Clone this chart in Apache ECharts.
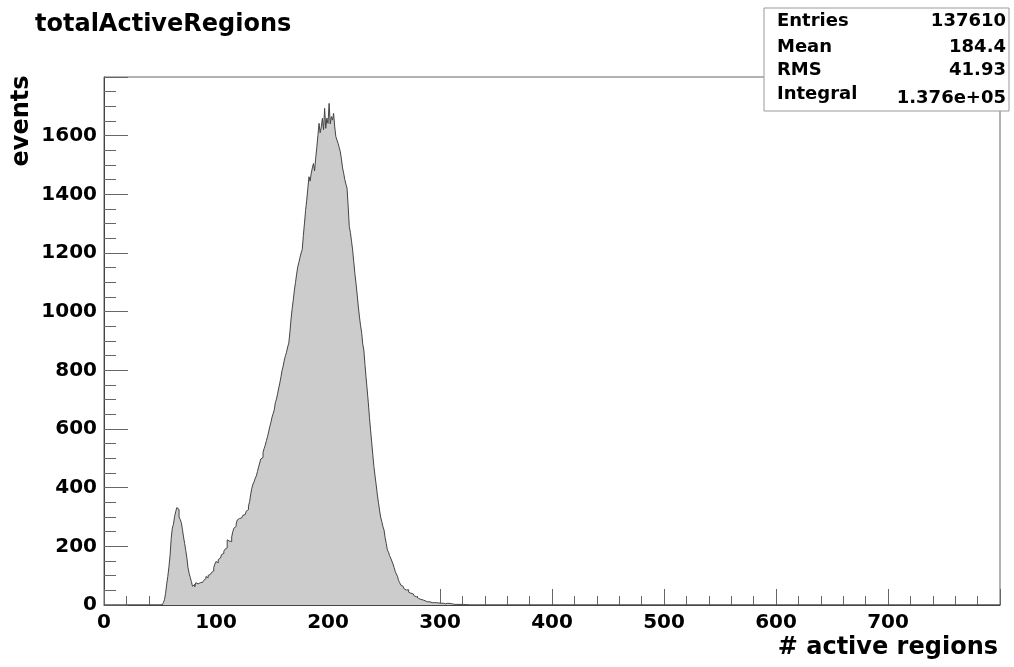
<!DOCTYPE html>
<html>
<head>
<meta charset="utf-8">
<script src="https://cdn.jsdelivr.net/npm/echarts@6/dist/echarts.min.js"></script>
<style>
  html, body { margin: 0; padding: 0; background: #fff; }
  #main { width: 1014px; height: 667px; }
</style>
</head>
<body>
<div id="main"></div>
<script>
// histogram: one bin per unit, first filled bin at 50
const firstBin = 50;
const counts = [
  0, 1, 3, 8, 18, 40, 72, 98, 131, 170,            // 50-59
  226, 262, 275, 301, 318, 332, 326, 300, 292, 281, // 60-69
  258, 232, 210, 186, 160, 127, 108, 94, 80, 64,    // 70-79
  70, 62, 76, 72, 78, 76, 80, 77, 74, 84,           // 80-89
  90, 97, 93, 101, 104, 100, 111, 116, 128, 140,    // 90-99
  148, 144, 155, 160, 163, 172, 176, 183, 190, 195, // 100-109
  222, 218, 212, 216, 232, 250, 262, 268, 276, 290, // 110-119
  295, 292, 297, 302, 306, 308, 314, 320, 325, 338, // 120-129
  352, 378, 398, 412, 420, 432, 440, 455, 470, 484, // 130-139
  498, 503, 520, 534, 545, 560, 574, 590, 608, 622, // 140-149
  640, 652, 665, 690, 702, 720, 740, 757, 778, 800, // 150-159
  815, 835, 850, 862, 880, 893, 930, 975, 1010, 1040,     // 160-169
  1074, 1100, 1128, 1153, 1168, 1185, 1200, 1212, 1260, 1302, // 170-179
  1345, 1380, 1420, 1460, 1445, 1470, 1490, 1505, 1480, 1523, // 180-189
  1560, 1600, 1642, 1610, 1630, 1659, 1620, 1693, 1625, 1660, // 190-199
  1642, 1710, 1640, 1665, 1653, 1676, 1630, 1597, 1585, 1574, // 200-209
  1560, 1545, 1520, 1490, 1472, 1450, 1435, 1421, 1360, 1290, // 210-219
  1270, 1240, 1210, 1170, 1130, 1097, 1060, 1020, 985, 955,   // 220-229
  930, 890, 869, 820, 775, 733, 690, 640, 597, 555, // 230-239
  512, 472, 440, 410, 378, 350, 324, 300, 285, 268, // 240-249
  256, 230, 210, 188, 180, 168, 160, 150, 140, 128, // 250-259
  115, 106, 98, 84, 76, 68, 64, 60, 55, 51,         // 260-269
  48, 52, 44, 40, 45, 38, 34, 31, 28, 26,           // 270-279
  22, 20, 19, 17, 17, 15, 14, 12, 11, 10,           // 280-289
  11, 9, 8, 9, 8, 7, 8, 6, 7, 8,                    // 290-299
  6, 5, 6, 5, 4, 5, 6, 4, 5, 3,                     // 300-309
  4, 3, 2, 3, 2, 3, 2, 1, 2, 1,                     // 310-319
  2, 1, 1, 0, 1, 1, 0, 1, 0, 0                      // 320-329
];
const xMax = 800;
const yMax = 1800;
const statNames = ['Entries', 'Mean', 'RMS', 'Integral'];
const statValues = ['137610', '184.4', '41.93', '1.376e+05'];

const font = 'DejaVu Sans';

// step points from the bins
const points = [[0, 0]];
counts.forEach((c, i) => points.push([firstBin + i, c]));
points.push([firstBin + counts.length, 0]);
points.push([xMax, 0]);

const chart = echarts.init(document.getElementById('main'));

const statRows = [];
const rowY = [21, 47, 70, 94];
statNames.forEach((n, i) => {
  statRows.push({
    type: 'text', x: 777, y: rowY[i], z: 101,
    style: { text: n, font: 'bold 18px ' + font, fill: '#000', verticalAlign: 'middle', align: 'left' }
  });
  statRows.push({
    type: 'text', x: 1006, y: rowY[i] + (i === 3 ? 4 : 0), z: 101,
    style: { text: statValues[i], font: 'bold 18px ' + font, fill: '#000', verticalAlign: 'middle', align: 'right' }
  });
});

const option = {
  animation: false,
  backgroundColor: '#fff',
  grid: {
    left: 104, right: 14, top: 77, bottom: 62,
    show: true, borderColor: '#666', borderWidth: 1, backgroundColor: 'transparent'
  },
  xAxis: {
    type: 'value', min: 0, max: xMax, interval: 100,
    axisLine: { show: true, onZero: false, lineStyle: { color: '#444', width: 1 } },
    axisTick: { show: true, inside: true, length: 16, lineStyle: { color: '#666' } },
    minorTick: { show: true, splitNumber: 5, length: 9, lineStyle: { color: '#666' } },
    splitLine: { show: false },
    axisLabel: {
      showMaxLabel: false, margin: 8,
      formatter: v => String(v),
      fontFamily: font, fontWeight: 'bold', fontSize: 20, color: '#000'
    }
  },
  yAxis: {
    type: 'value', min: 0, max: yMax, interval: 200,
    axisLine: { show: true, onZero: false, lineStyle: { color: '#444', width: 1 } },
    axisTick: { show: true, inside: true, length: 24, lineStyle: { color: '#666' } },
    minorTick: { show: true, splitNumber: 4, length: 12, lineStyle: { color: '#666' } },
    splitLine: { show: false },
    axisLabel: {
      showMaxLabel: false, margin: 7,
      formatter: v => String(v),
      fontFamily: font, fontWeight: 'bold', fontSize: 20, color: '#000'
    }
  },
  series: [{
    type: 'line',
    step: 'end',
    symbol: 'none',
    data: points,
    lineStyle: { color: '#444', width: 1 },
    areaStyle: { color: '#cccccc', opacity: 1 }
  }],
  graphic: [
    {
      type: 'text', x: 35, y: 25,
      style: { text: 'totalActiveRegions', font: 'bold 24px ' + font, fill: '#000', verticalAlign: 'middle' }
    },
    {
      type: 'text', x: 998, y: 648,
      style: { text: '# active regions', font: 'bold 24px ' + font, fill: '#000', align: 'right', verticalAlign: 'middle' }
    },
    {
      type: 'text', x: 22, y: 121, rotation: Math.PI / 2,
      style: { text: 'events', font: 'bold 24px ' + font, fill: '#000', align: 'center', verticalAlign: 'middle' }
    },
    {
      type: 'rect', z: 100,
      shape: { x: 764, y: 8, width: 245, height: 103 },
      style: { fill: '#fff', stroke: '#999', lineWidth: 1 }
    }
  ].concat(statRows)
};

chart.setOption(option);
</script>
</body>
</html>
